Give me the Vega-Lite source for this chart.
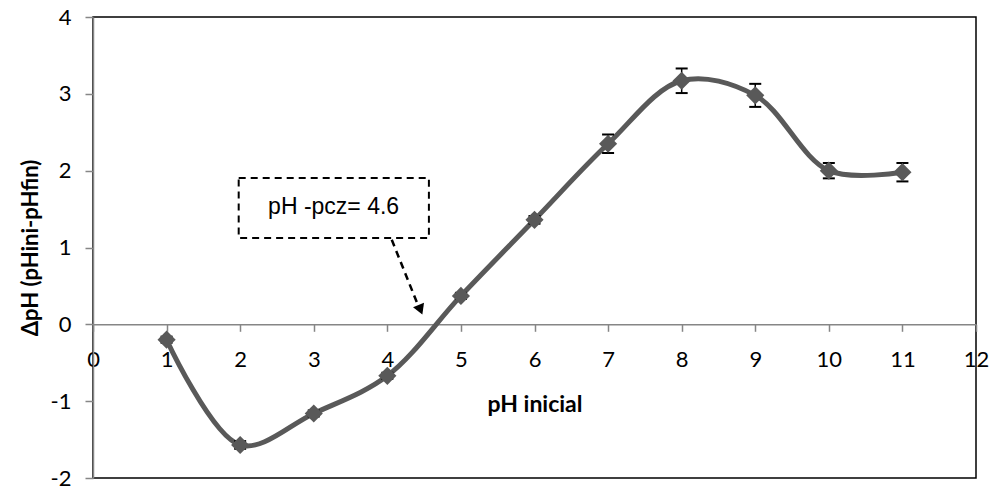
{
  "$schema": "https://vega.github.io/schema/vega-lite/v6.json",
  "width": 883,
  "height": 461,
  "autosize": "none",
  "padding": {"left": 93, "top": 17, "right": 15, "bottom": 10},
  "background": "white",
  "config": {
    "view": {"stroke": "#000000", "strokeWidth": 1.5},
    "font": "Lato"
  },
  "datasets": {
    "pts": [
      {"ph": 1, "dph": -0.20, "lo": -0.24, "hi": -0.16},
      {"ph": 2, "dph": -1.57, "lo": -1.62, "hi": -1.52},
      {"ph": 3, "dph": -1.16, "lo": -1.20, "hi": -1.12},
      {"ph": 4, "dph": -0.67, "lo": -0.71, "hi": -0.63},
      {"ph": 5, "dph": 0.37, "lo": 0.33, "hi": 0.41},
      {"ph": 6, "dph": 1.36, "lo": 1.31, "hi": 1.41},
      {"ph": 7, "dph": 2.35, "lo": 2.23, "hi": 2.47},
      {"ph": 8, "dph": 3.17, "lo": 3.01, "hi": 3.33},
      {"ph": 9, "dph": 2.98, "lo": 2.83, "hi": 3.13},
      {"ph": 10, "dph": 2.00, "lo": 1.90, "hi": 2.10},
      {"ph": 11, "dph": 1.98, "lo": 1.86, "hi": 2.10}
    ],
    "box": [{"x1": 1.98, "x2": 4.565, "y1": 1.124, "y2": 1.905, "label": "pH -pcz= 4.6", "lx": 3.27, "ly": 1.53}],
    "arrow": [{"x1": 4.06, "y1": 1.10, "x2": 4.40, "y2": 0.29, "hx": 4.45, "hy": 0.19}]
  },
  "layer": [
    {
      "data": {"name": "box"},
      "mark": {"type": "rect", "filled": false, "stroke": "#000000", "strokeWidth": 2, "strokeDash": [7, 5]},
      "encoding": {
        "x": {"field": "x1", "type": "quantitative", "scale": {"domain": [0, 12], "nice": false, "zero": false},
          "axis": {
            "values": [0, 1, 2, 3, 4, 5, 6, 7, 8, 9, 10, 11, 12],
            "labelExpr": "'' + datum.value",
            "offset": -153.7,
            "grid": false,
            "domainColor": "#868686",
            "domainWidth": 1.5,
            "tickColor": "#868686",
            "tickWidth": 1.5,
            "tickSize": 7,
            "labelFontSize": 22,
            "labelColor": "#000000",
            "labelPadding": 18,
            "labelFlush": false,
            "labelOverlap": false,
            "title": "pH inicial",
            "titleFontSize": 23,
            "titleFontWeight": "bold",
            "titleColor": "#000000",
            "titlePadding": 23
          }},
        "x2": {"field": "x2"},
        "y": {"field": "y1", "type": "quantitative", "scale": {"domain": [-2, 4], "nice": false, "zero": false},
          "axis": {
            "values": [-2, -1, 0, 1, 2, 3, 4],
            "labelExpr": "'' + datum.value",
            "grid": false,
            "domainColor": "#868686",
            "domainWidth": 1.5,
            "tickColor": "#868686",
            "tickWidth": 1.5,
            "tickSize": 8,
            "labelFontSize": 22,
            "labelColor": "#000000",
            "labelPadding": 14,
            "labelFlush": false,
            "labelOverlap": false,
            "title": "ΔpH (pHini-pHfin)",
            "titleFontSize": 22,
            "titleFontWeight": "bold",
            "titleColor": "#000000",
            "titlePadding": 8
          }},
        "y2": {"field": "y2"}
      }
    },
    {
      "data": {"name": "box"},
      "mark": {"type": "text", "font": "Liberation Sans", "fontSize": 23, "color": "#000000", "align": "center", "baseline": "middle"},
      "encoding": {
        "x": {"field": "lx", "type": "quantitative"},
        "y": {"field": "ly", "type": "quantitative"},
        "text": {"field": "label"}
      }
    },
    {
      "data": {"name": "arrow"},
      "mark": {"type": "rule", "color": "#000000", "strokeWidth": 2.5, "strokeDash": [7, 5]},
      "encoding": {
        "x": {"field": "x1", "type": "quantitative"},
        "y": {"field": "y1", "type": "quantitative"},
        "x2": {"field": "x2"},
        "y2": {"field": "y2"}
      }
    },
    {
      "data": {"name": "arrow"},
      "mark": {"type": "point", "shape": "triangle-down", "filled": true, "color": "#000000", "opacity": 1, "size": 140, "angle": 338},
      "encoding": {
        "x": {"field": "hx", "type": "quantitative"},
        "y": {"field": "hy", "type": "quantitative"}
      }
    },
    {
      "data": {"name": "pts"},
      "mark": {"type": "line", "interpolate": "catmull-rom", "color": "#595959", "strokeWidth": 5},
      "encoding": {
        "x": {"field": "ph", "type": "quantitative"},
        "y": {"field": "dph", "type": "quantitative"}
      }
    },
    {
      "data": {"name": "pts"},
      "mark": {"type": "rule", "color": "#000000", "strokeWidth": 1.5},
      "encoding": {
        "x": {"field": "ph", "type": "quantitative"},
        "y": {"field": "lo", "type": "quantitative"},
        "y2": {"field": "hi"}
      }
    },
    {
      "data": {"name": "pts"},
      "mark": {"type": "tick", "orient": "horizontal", "color": "#000000", "thickness": 2, "size": 12, "opacity": 1},
      "encoding": {
        "x": {"field": "ph", "type": "quantitative"},
        "y": {"field": "lo", "type": "quantitative"}
      }
    },
    {
      "data": {"name": "pts"},
      "mark": {"type": "tick", "orient": "horizontal", "color": "#000000", "thickness": 2, "size": 12, "opacity": 1},
      "encoding": {
        "x": {"field": "ph", "type": "quantitative"},
        "y": {"field": "hi", "type": "quantitative"}
      }
    },
    {
      "data": {"name": "pts"},
      "mark": {"type": "point", "shape": "diamond", "filled": true, "color": "#595959", "opacity": 1, "size": 330},
      "encoding": {
        "x": {"field": "ph", "type": "quantitative"},
        "y": {"field": "dph", "type": "quantitative"}
      }
    }
  ]
}
